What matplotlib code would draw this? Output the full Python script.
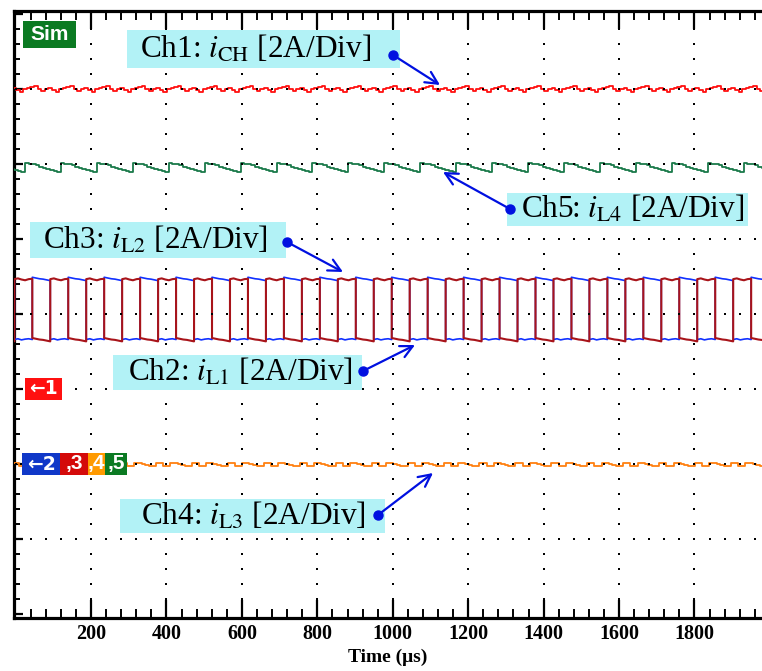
import numpy as np
import matplotlib
matplotlib.use("Agg")
import matplotlib.pyplot as plt
from matplotlib.patches import Rectangle

plt.rcParams['font.family'] = ['Liberation Serif', 'DejaVu Serif']
plt.rcParams['mathtext.fontset'] = 'stix'

# ---------------- data (currents in A, time in us) ----------------
PERIOD_US = 95.3
T_END_US = 1979
x_ticks = [200, 400, 600, 800, 1000, 1200, 1400, 1600, 1800]

# channel zero levels on the screen (divisions) and scale
ch1_zero_div = 3.0
ch2345_zero_div = 2.0
amps_per_div = 2.0

# Ch1 i_CH : one switching period of ripple (starts at ripple peak)
ch1_phase_us = -46.4
ch1_shape = [8.07, 8.00, 7.94, 7.99, 8.03, 7.98, 7.92, 7.99, 8.03, 8.05]

# Ch2 i_L1 / Ch3 i_L2 : complementary square-like currents
ch23_phase_us = -3.4
ch2_high = [4.93, 4.95, 4.92, 4.90, 4.93, 4.94]
ch2_low = [3.36, 3.34, 3.32, 3.31, 3.29, 3.27]
ch3_high = [4.98, 4.96, 4.94, 4.93, 4.91, 4.89]
ch3_low = [3.32, 3.34, 3.31, 3.33, 3.34, 3.32]

# Ch4 i_L3 : small stepped ripple near zero
ch4_phase_us = 10.0
ch4_shape = [-0.04, -0.04, 0.04, 0.04, 0.01, -0.02, -0.05, -0.04, 0.03, 0.04]

# Ch5 i_L4 : sawtooth ripple
ch5_phase_us = 24.7
ch5_shape = [8.03, 8.00, 8.01, 7.97, 7.93, 7.90, 7.87, 7.84, 7.81, 7.79]

# ---------------- figure ----------------
W, H = 762, 671
fig = plt.figure(figsize=(W / 100, H / 100), dpi=100)
ax_l, ax_r, ax_t, ax_b = 14.1, 762, 11, 618
ax = fig.add_axes([ax_l / W, (H - ax_b) / H, (ax_r - ax_l) / W, (ax_b - ax_t) / H])
ax.set_xlim(-4, T_END_US)
ax.set_ylim(-0.053, 8.04)


def periodic(shape, phase, period, t_end):
    n = len(shape)
    ts, vs = [], []
    k = -1
    while phase + k * period < t_end + period:
        for i, v in enumerate(shape):
            ts.append(phase + k * period + i * period / n)
            vs.append(v)
        k += 1
    return np.array(ts), np.array(vs)


def square(high, low, phase, period, t_end):
    half = period / 2
    ts, vs = [], []
    k = -1
    while phase + k * period < t_end + period:
        t0 = phase + k * period
        for seg, start in ((high, t0), (low, t0 + half)):
            n = len(seg)
            for i, v in enumerate(seg):
                ts.append(start + i * half / (n - 1))
                vs.append(v)
        k += 1
    return np.array(ts), np.array(vs)


def to_div(vals, zero):
    return zero + np.asarray(vals) / amps_per_div


c_ch1 = '#ff1010'
c_ch2 = '#a8141a'
c_ch3 = '#1030ff'
c_ch4 = '#ff8010'
c_ch5 = '#1a7a4a'

t1, v1 = periodic(ch1_shape, ch1_phase_us, PERIOD_US, T_END_US)
ax.plot(t1, to_div(v1, ch1_zero_div), color=c_ch1, lw=1.3, drawstyle='steps-post', zorder=3)

t5, v5 = periodic(ch5_shape, ch5_phase_us, PERIOD_US, T_END_US)
ax.plot(t5, to_div(v5, ch2345_zero_div), color=c_ch5, lw=1.3, drawstyle='steps-post', zorder=3)

t3, v3 = square(ch3_low, ch3_high, ch23_phase_us, PERIOD_US, T_END_US)
ax.plot(t3, to_div(v3, ch2345_zero_div), color=c_ch3, lw=1.2, zorder=3)
t2, v2 = square(ch2_high, ch2_low, ch23_phase_us, PERIOD_US, T_END_US)
ax.plot(t2, to_div(v2, ch2345_zero_div), color=c_ch2, lw=1.5, zorder=3.1)

t4, v4 = periodic(ch4_shape, ch4_phase_us, PERIOD_US, T_END_US)
ax.plot(t4, to_div(v4, ch2345_zero_div), color=c_ch4, lw=1.3, drawstyle='steps-post', zorder=3)

# ---------------- graticule dots ----------------
minor_x = np.arange(0, T_END_US, 40)
minor_y = np.arange(0, 8.01, 0.2)
for xv in x_ticks:
    ax.plot(np.full_like(minor_y, xv), minor_y, ls='none', marker='s', ms=1.5,
            mew=0, color='black', zorder=4)
for yv in range(1, 8):
    ax.plot(minor_x, np.full_like(minor_x, yv, dtype=float), ls='none', marker='s',
            ms=1.5, mew=0, color='black', zorder=4)

# ---------------- axes styling ----------------
for s in ('left', 'top', 'bottom'):
    ax.spines[s].set_linewidth(2.3)
ax.spines['right'].set_visible(False)
ax.set_xticks(x_ticks)
ax.set_xticks(minor_x[1:], minor=True)
ax.set_xticklabels([str(v) for v in x_ticks], fontweight='bold', fontsize=14.5)
ax.set_yticks(np.arange(0, 9, 1))
ax.set_yticks(minor_y, minor=True)
ax.set_yticklabels([])
ax.tick_params(axis='x', which='major', direction='in', length=13, width=1.6,
               top=True, bottom=True, pad=4)
ax.tick_params(axis='x', which='minor', direction='in', length=6.5, width=1.4,
               top=True, bottom=True)
ax.tick_params(axis='y', which='major', direction='in', length=6.5, width=1.6,
               left=True, right=False)
ax.tick_params(axis='y', which='minor', direction='in', length=4.5, width=1.4,
               left=True, right=False)
ax.set_xlabel('Time (μs)', fontweight='bold', fontsize=14, labelpad=4)


def pix(xp, yp):
    return ax.transData.inverted().transform((xp, H - yp))


# ---------------- annotation boxes ----------------
box_color = '#b2f2f6'
annots = [
    # label, box (x0,y0,x1,y1), text center, dot, arrow tip
    (r'Ch1: $i_{\mathrm{CH}}$ [2A/Div]', (127, 30, 400, 68), (256, 49), (393, 55), (440, 85)),
    (r'Ch5: $i_{\mathrm{L4}}$ [2A/Div]', (507, 193, 748, 226), (633, 209), (510, 209), (443, 172)),
    (r'Ch3: $i_{\mathrm{L2}}$ [2A/Div]', (30, 222, 286, 258), (155, 240), (287, 242), (343, 272)),
    (r'Ch2: $i_{\mathrm{L1}}$ [2A/Div]', (113, 355, 362, 390), (240, 372), (363, 371), (415, 345)),
    (r'Ch4: $i_{\mathrm{L3}}$ [2A/Div]', (120, 499, 385, 533), (253, 516), (378, 515), (433, 473)),
]
for label, (x0, y0, x1, y1), tc, dot, tip in annots:
    p0 = pix(x0, y1)
    p1 = pix(x1, y0)
    ax.add_patch(Rectangle(p0, p1[0] - p0[0], p1[1] - p0[1], fc=box_color, ec='none', zorder=5))
    ax.text(*pix(*tc), label, ha='center', va='center', fontsize=22.5, zorder=6)
    d = pix(*dot)
    ax.plot(*d, 'o', color='#0010e0', ms=6.5, zorder=7)
    ax.annotate('', xy=pix(*tip), xytext=d,
                arrowprops=dict(arrowstyle='->', color='#0010e0', lw=1.6,
                                mutation_scale=22, shrinkA=0, shrinkB=0), zorder=7)

# ---------------- badges ----------------
badges = [
    ('Sim', (23, 21, 76, 48), '#0b7a22', ['Liberation Sans', 'DejaVu Sans'], 15),
    ('←1', (25, 378, 62, 400), '#ff1010', ['DejaVu Sans'], 13.5),
    ('←2', (22, 453, 60, 475), '#1038c8', ['DejaVu Sans'], 13.5),
    (',3', (60, 453, 88, 475), '#d40a0a', ['Liberation Sans', 'DejaVu Sans'], 15),
    (',4', (88, 453, 105, 475), '#ff9a00', ['Liberation Sans', 'DejaVu Sans'], 15),
    (',5', (105, 453, 127, 475), '#0b7a22', ['Liberation Sans', 'DejaVu Sans'], 15),
]
for txt, (x0, y0, x1, y1), col, fam, fs in badges:
    p0 = pix(x0, y1)
    p1 = pix(x1, y0)
    ax.add_patch(Rectangle(p0, p1[0] - p0[0], p1[1] - p0[1], fc=col, ec='none', zorder=5))
    ax.text(*pix((x0 + x1) / 2, (y0 + y1) / 2), txt, ha='center', va='center',
            fontsize=fs, fontweight='bold', color='white', family=fam, zorder=6)

fig.savefig('out.png', dpi=100)
